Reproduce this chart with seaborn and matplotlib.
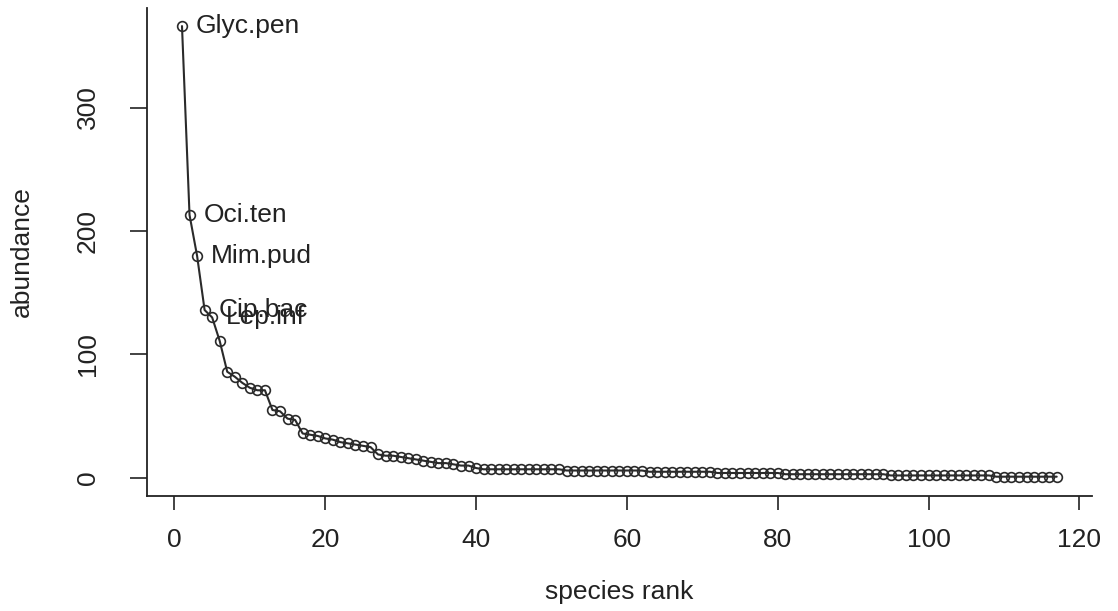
import matplotlib
matplotlib.use("Agg")
import matplotlib.pyplot as plt
import seaborn as sns
import numpy as np
import pandas as pd

# ---- data ----
abundance = [366, 213, 180, 136, 130, 111, 86, 82, 77, 73,
             71, 71, 55, 54, 48, 47, 36, 35, 34, 32,
             31, 29, 28, 27, 26, 25, 19, 18, 18, 17,
             16, 15, 14, 13, 12, 12, 11, 10, 10, 8] \
    + [7] * 11 + [6] * 11 + [5] * 9 + [4] * 9 + [3] * 14 + [2] * 14 + [1] * 9
rank = list(range(1, len(abundance) + 1))
label_species = ["Glyc.pen", "Oci.ten", "Mim.pud", "Cip.bac", "Lep.inf"]
x_ticks = [0, 20, 40, 60, 80, 100, 120]
y_ticks = [0, 100, 200, 300]

df = pd.DataFrame({"rank": rank, "abundance": abundance})

sns.set_style("white")
plt.rcParams["font.family"] = ["Liberation Sans", "DejaVu Sans"]

FS = 19
fig = plt.figure(figsize=(11.18, 6.11), dpi=100)
ax = fig.add_axes([147 / 1118, 1 - 496 / 611, (1091.7 - 147) / 1118, (496 - 8) / 611])

sns.lineplot(data=df, x="rank", y="abundance", ax=ax, color="#2a2a2a", linewidth=1.5,
             marker="o", markersize=7, markerfacecolor="none",
             markeredgecolor="#2a2a2a", markeredgewidth=1.2)

for i, name in enumerate(label_species):
    ax.annotate(name, (rank[i], abundance[i]), xytext=(10, 0), textcoords="offset points",
                ha="left", va="center", fontsize=FS, color="#222222")

n = len(rank)
xr = (n - 1) * 0.04
ax.set_xlim(1 - xr, n + xr)
yr = max(abundance) * 0.04
ax.set_ylim(-yr, max(abundance) + yr)

ax.set_xticks(x_ticks)
ax.set_yticks(y_ticks)
ax.set_yticklabels([str(v) for v in y_ticks], rotation=90, va="center")
ax.tick_params(axis="x", direction="out", length=10, width=1.2, pad=13, labelsize=FS,
               colors="#222222", bottom=True)
ax.tick_params(axis="y", direction="out", length=12, width=1.2, pad=22, labelsize=FS,
               colors="#222222", left=True)

for s in ["top", "right"]:
    ax.spines[s].set_visible(False)
for s in ["left", "bottom"]:
    ax.spines[s].set_color("#222222")
    ax.spines[s].set_linewidth(1.3)

ax.set_xlabel("species rank", fontsize=FS, color="#222222", va="center")
ax.set_ylabel("abundance", fontsize=FS, color="#222222", va="center")
ax.xaxis.set_label_coords(0.5, -(592 - 496) / 488)
ax.yaxis.set_label_coords(-(147 - 22) / 944.7, 0.5)

fig.savefig("out.png", dpi=100)
